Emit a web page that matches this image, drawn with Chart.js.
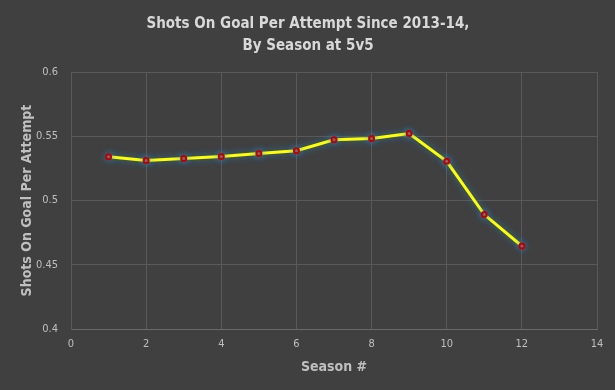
<!DOCTYPE html>
<html lang="en">
<head>
<meta charset="utf-8">
<title>Shots On Goal Per Attempt</title>
<script src="https://cdn.jsdelivr.net/npm/chart.js"></script>
<style>
    html, body { margin: 0; padding: 0; background: #404040; }
    .wrap { width: 615px; height: 390px; }
</style>
</head>
<body>
<div class="wrap"><canvas id="chart" width="615" height="390"></canvas></div>
<script>
    // données
    const seasons = [1, 2, 3, 4, 5, 6, 7, 8, 9, 10, 11, 12];
    const sogPerAttempt = [0.5341, 0.5312, 0.5328, 0.5343, 0.5367, 0.5388, 0.5473, 0.5483, 0.5522, 0.5305, 0.4891, 0.4646];
    const titleLines = ['Shots On Goal Per Attempt Since 2013-14,', 'By Season at 5v5'];

    const points = seasons.map((s, i) => ({ x: s, y: sogPerAttempt[i] }));

    // halo bleu autour de la ligne
    const glow = {
        id: 'glow',
        beforeDatasetDraw(chart) {
            const c = chart.ctx;
            c.save();
            c.shadowColor = 'rgba(40,140,200,0.75)';
            c.shadowBlur = 7;
        },
        afterDatasetDraw(chart) {
            chart.ctx.restore();
        }
    };

    const font = "'DejaVu Sans Condensed', sans-serif";

    new Chart(document.getElementById('chart').getContext('2d'), {
        type: 'line',
        data: {
            datasets: [{
                data: points,
                borderColor: '#ffff00',
                borderWidth: 3,
                pointRadius: 2.5,
                pointBorderWidth: 2,
                pointBorderColor: '#c00000',
                pointBackgroundColor: '#7a6a6a',
                tension: 0
            }]
        },
        plugins: [glow],
        options: {
            responsive: false,
            animation: false,
            layout: { padding: { left: 19, right: 18, top: 6, bottom: 10 } },
            plugins: {
                legend: { display: false },
                tooltip: { enabled: false },
                title: {
                    display: true,
                    text: titleLines,
                    color: '#d9d9d9',
                    font: { family: font, size: 15, weight: 'bold', lineHeight: 1.47 },
                    padding: { top: 7, bottom: 15 }
                }
            },
            scales: {
                x: {
                    type: 'linear',
                    min: 0, max: 14,
                    afterFit: s => { s.height = 51; },
                    ticks: { stepSize: 2, color: '#bfbfbf', font: { family: font, size: 11 }, padding: 9 },
                    grid: { color: '#595959', drawTicks: false },
                    border: { color: '#6a6a6a' },
                    title: { display: true, text: 'Season #', color: '#bfbfbf', font: { family: font, size: 14, weight: 'bold' }, padding: { top: 0, bottom: 4 } }
                },
                y: {
                    min: 0.4, max: 0.6,
                    afterFit: s => { s.width = 52; },
                    ticks: {
                        stepSize: 0.05,
                        color: '#bfbfbf',
                        font: { family: font, size: 11 },
                        padding: 13,
                        callback: v => String(+v.toFixed(2))
                    },
                    grid: { color: '#595959', drawTicks: false },
                    border: { color: '#595959' },
                    title: { display: true, text: 'Shots On Goal Per Attempt', color: '#bfbfbf', font: { family: font, size: 14, weight: 'bold' }, padding: 0 }
                }
            }
        }
    });
</script>
</body>
</html>
